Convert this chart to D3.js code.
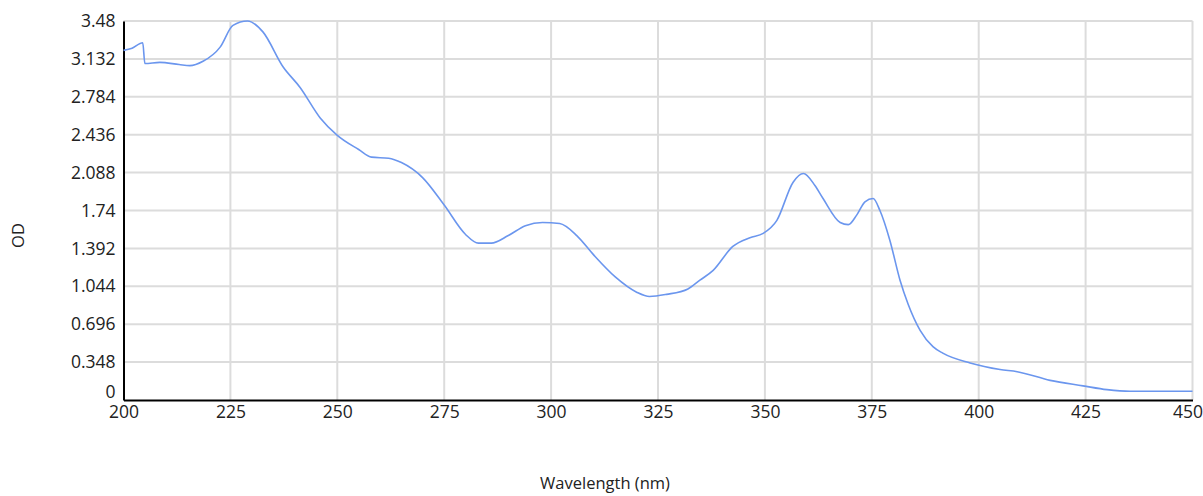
<!DOCTYPE html>
<html>
<head>
<meta charset="utf-8">
<script src="https://cdn.jsdelivr.net/npm/d3@7"></script>
<style>
  html, body { margin: 0; padding: 0; background: #fff; }
  svg { display: block; }
  .tick text { font-family: "Open Sans", "Noto Sans", sans-serif; font-size: 17.5px; fill: #222; }
  .lbl { font-family: "Open Sans", "Noto Sans", sans-serif; font-size: 16.5px; fill: #222; }
</style>
</head>
<body>
<div id="chart"></div>
<script>
// wavelength (nm) and OD
const wavelength = [200, 202, 204.5, 205, 208.5, 213, 215.5, 218.6, 222.6, 225.6, 229, 232.6, 237.3, 241.3, 246,
  250, 255, 258, 262, 265, 270, 275, 280, 283, 286, 290, 294, 298, 302, 306, 310, 315, 320, 323, 327, 332,
  334.8, 337.9, 342.5, 346.5, 349.6, 352.8, 356.6, 359, 361.7, 363.6, 367.6, 369.5, 371.5, 373.4, 375.3,
  376.9, 379.2, 381.6, 383.5, 386.3, 389.3, 391.6, 398, 405, 409, 416.7, 424.4, 430, 435.4, 450];
const od = [3.21, 3.23, 3.28, 3.09, 3.10, 3.08, 3.07, 3.11, 3.24, 3.44, 3.48, 3.38, 3.06, 2.87, 2.59,
  2.43, 2.30, 2.23, 2.22, 2.18, 2.04, 1.79, 1.52, 1.44, 1.44, 1.51, 1.60, 1.63, 1.62, 1.51, 1.33, 1.13, 0.99, 0.95, 0.97, 1.02,
  1.10, 1.19, 1.41, 1.49, 1.53, 1.65, 2.00, 2.08, 1.97, 1.85, 1.63, 1.61, 1.70, 1.82, 1.85,
  1.74, 1.47, 1.10, 0.88, 0.64, 0.49, 0.43, 0.34, 0.28, 0.26, 0.18, 0.13, 0.095, 0.08, 0.08];
const xTicks = [200, 225, 250, 275, 300, 325, 350, 375, 400, 425, 450];
const yTicks = [0, 0.348, 0.696, 1.044, 1.392, 1.74, 2.088, 2.436, 2.784, 3.132, 3.48];

const W = 1203, H = 496;
const m = { left: 123.5, right: 10.5, top: 21, bottom: 96 };

const svg = d3.select('#chart').append('svg').attr('width', W).attr('height', H);

const x = d3.scaleLinear().domain([200, 450]).range([m.left, W - m.right]);
const y = d3.scaleLinear().domain([0, 3.48]).range([H - m.bottom, m.top]);

// grid
svg.append('g')
  .selectAll('line').data(xTicks.slice(1)).enter().append('line')
  .attr('x1', d => x(d)).attr('x2', d => x(d))
  .attr('y1', y(3.48)).attr('y2', y(0))
  .attr('stroke', '#dcdcdc').attr('stroke-width', 2);
svg.append('g')
  .selectAll('line').data(yTicks.slice(1)).enter().append('line')
  .attr('x1', x(200)).attr('x2', x(450))
  .attr('y1', d => y(d)).attr('y2', d => y(d))
  .attr('stroke', '#dcdcdc').attr('stroke-width', 2);

// axes
const xAxis = svg.append('g')
  .attr('transform', `translate(0,${y(0)})`)
  .call(d3.axisBottom(x).tickValues(xTicks).tickSize(0).tickPadding(6).tickFormat(d3.format('d')));
xAxis.select('.domain').attr('stroke', '#000').attr('stroke-width', 2);
// last label sits a bit left so it stays inside the window
xAxis.selectAll('.tick text').filter(d => d === 450).attr('dx', '-5px');

const yAxis = svg.append('g')
  .attr('transform', `translate(${x(200)},0)`)
  .call(d3.axisLeft(y).tickValues(yTicks).tickSize(0).tickPadding(8).tickFormat(d => String(d)));
yAxis.select('.domain').attr('stroke', '#000').attr('stroke-width', 2);
yAxis.selectAll('.tick text').filter(d => d === 0).attr('dy', '-0.12em');

// curve
svg.append('path')
  .datum(wavelength.map((w, i) => [w, od[i]]))
  .attr('fill', 'none')
  .attr('stroke', '#6b96ee')
  .attr('stroke-width', 1.6)
  .attr('stroke-linejoin', 'round')
  .attr('d', d3.line().x(d => x(d[0])).y(d => y(d[1])).curve(d3.curveMonotoneX));

// axis titles
svg.append('text').attr('class', 'lbl')
  .attr('x', 605).attr('y', 489)
  .attr('text-anchor', 'middle')
  .text('Wavelength (nm)');
svg.append('text').attr('class', 'lbl')
  .attr('transform', `translate(24,${(y(0) + y(3.48)) / 2 + 25}) rotate(-90)`)
  .attr('text-anchor', 'middle')
  .text('OD');
</script>
</body>
</html>
